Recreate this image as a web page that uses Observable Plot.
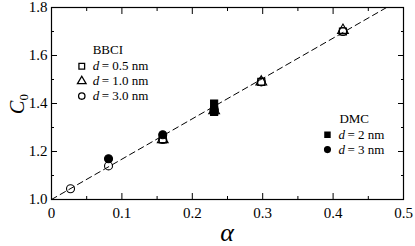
<!DOCTYPE html>
<html><head><meta charset="utf-8">
<script src="https://cdn.jsdelivr.net/npm/d3@7"></script>
<script src="https://cdn.jsdelivr.net/npm/@observablehq/plot@0.6"></script>
<style>body{margin:0;background:#fff}</style>
</head><body><div id="chart"></div>
<script>
const xTicks = [0, 0.1, 0.2, 0.3, 0.4, 0.5];
const xMinor = [0.05, 0.15, 0.25, 0.35, 0.45];
const yTicks = [1.0, 1.2, 1.4, 1.6, 1.8];
const yMinor = [1.1, 1.3, 1.5, 1.7];

const bbci05Alpha = [0.158, 0.231, 0.298, 0.414];
const bbci05C0 = [1.25, 1.37, 1.49, 1.70];
const bbci10Alpha = [0.158, 0.231, 0.298, 0.414];
const bbci10C0 = [1.25, 1.37, 1.49, 1.705];
const bbci30Alpha = [0.027, 0.081, 0.158, 0.231, 0.298, 0.414];
const bbci30C0 = [1.045, 1.14, 1.25, 1.37, 1.49, 1.70];
const dmc2Alpha = [0.231, 0.231];
const dmc2C0 = [1.40, 1.365];
const dmc3Alpha = [0.081, 0.158, 0.231];
const dmc3C0 = [1.17, 1.27, 1.375];

const fitAlpha = [0, 0.476];
const fitC0 = [1.0, 1.8];

const legendBBCI = ["= 0.5 nm", "= 1.0 nm", "= 3.0 nm"];
const legendDMC = ["= 2 nm", "= 3 nm"];

const pts = (a, c, s, fill) => a.map((x, i) => ({x, y: c[i], s, fill}));
const data = [
  ...pts(bbci05Alpha, bbci05C0, "square", "none"),
  ...pts(bbci10Alpha, bbci10C0, "triangle", "none"),
  ...pts(bbci30Alpha, bbci30C0, "circle", "none"),
  ...pts(dmc2Alpha, dmc2C0, "square", "black"),
  ...pts(dmc3Alpha, dmc3C0, "circle", "black")
];
const fit = fitAlpha.map((x, i) => ({x, y: fitC0[i]}));

const legB = legendBBCI.map((t, i) => ({t, x: 0.043, y: 1.555 - i * 0.062, s: ["square", "triangle", "circle"][i]}));
const legD = legendDMC.map((t, i) => ({t, x: 0.392, y: 1.27 - i * 0.062, s: ["square", "circle"][i]}));

const font = "'Liberation Serif', 'Times New Roman', serif";
const noFmt = () => "";
const chart = Plot.plot({
  width: 415, height: 246,
  marginLeft: 51, marginRight: 12, marginTop: 7, marginBottom: 47,
  style: {fontFamily: font, fontSize: "14px", color: "black", background: "white"},
  x: {domain: [0, 0.5], label: null},
  y: {domain: [1.0, 1.8], label: null},
  symbol: {type: "identity"},
  marks: [
    Plot.frame({stroke: "black", strokeWidth: 1.2}),
    Plot.axisX({ticks: xTicks, tickSize: -6, tickPadding: 14, tickFormat: d => d === 0 ? "0" : d3.format(".1f")(d), fontSize: 15, label: null, fontFamily: font}),
    Plot.axisX({ticks: xMinor, tickSize: -3, tickFormat: noFmt, label: null}),
    Plot.axisX({anchor: "top", ticks: xTicks, tickSize: -6, tickFormat: noFmt, label: null}),
    Plot.axisX({anchor: "top", ticks: xMinor, tickSize: -3, tickFormat: noFmt, label: null}),
    Plot.axisY({ticks: yTicks, tickSize: -6, tickPadding: 10, tickFormat: d3.format(".1f"), fontSize: 15, label: null, fontFamily: font}),
    Plot.axisY({ticks: yMinor, tickSize: -3, tickFormat: noFmt, label: null}),
    Plot.axisY({anchor: "right", ticks: yTicks, tickSize: -6, tickFormat: noFmt, label: null}),
    Plot.axisY({anchor: "right", ticks: yMinor, tickSize: -3, tickFormat: noFmt, label: null}),
    Plot.line(fit, {x: "x", y: "y", stroke: "black", strokeWidth: 1, strokeDasharray: "6,4", clip: true}),
    Plot.dot(data, {x: "x", y: "y", symbol: "s", r: 4, stroke: "black", fill: "fill", strokeWidth: 1.1}),
    Plot.text(["BBCI"], {x: 0.08, y: 1.625, text: d => d, fontSize: 13, fontFamily: font}),
    Plot.dot(legB, {x: "x", y: "y", symbol: "s", r: 3.2, stroke: "black", fill: "none", strokeWidth: 1.3}),
    Plot.text(legB, {x: "x", y: "y", text: () => "d", dx: 11, textAnchor: "start", fontSize: 13, fontStyle: "italic", fontFamily: font}),
    Plot.text(legB, {x: "x", y: "y", text: "t", dx: 20, textAnchor: "start", fontSize: 13, fontFamily: font}),
    Plot.text(["DMC"], {x: 0.43, y: 1.335, text: d => d, fontSize: 13, fontFamily: font}),
    Plot.dot(legD, {x: "x", y: "y", symbol: "s", r: 2.8, stroke: "black", fill: "black"}),
    Plot.text(legD, {x: "x", y: "y", text: () => "d", dx: 11, textAnchor: "start", fontSize: 13, fontStyle: "italic", fontFamily: font}),
    Plot.text(legD, {x: "x", y: "y", text: "t", dx: 20, textAnchor: "start", fontSize: 13, fontFamily: font})
  ]
});
document.getElementById("chart").appendChild(chart);

const svg = d3.select(chart);
svg.append("text").attr("transform", "translate(24,104) rotate(-90)").attr("text-anchor", "middle")
  .attr("font-family", font).attr("font-size", 20).attr("font-style", "italic")
  .html('C<tspan font-style="normal" font-size="13" dy="4">0</tspan>');
svg.append("text").attr("x", 227).attr("y", 241).attr("text-anchor", "middle")
  .attr("font-family", font).attr("font-size", 26).attr("font-style", "italic").text("α");
</script></body></html>
